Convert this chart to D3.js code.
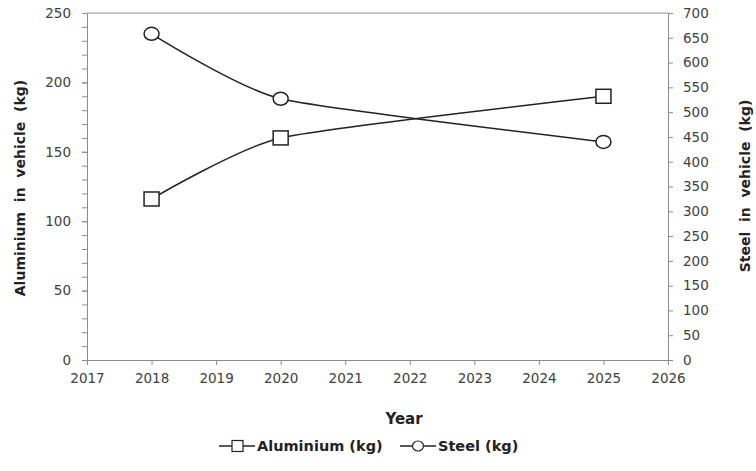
<!DOCTYPE html>
<html><head><meta charset="utf-8">
<script src="https://cdn.jsdelivr.net/npm/d3@7"></script>
<style>body{margin:0;background:#fff}svg{display:block}text{font-family:"DejaVu Sans",sans-serif}</style>
</head><body><svg id="c" width="756" height="471"></svg>
<script>
const years = [2018, 2020, 2025];
const aluminium = [116, 160, 190];
const steel = [658, 527, 440];
const xTicks = [2017,2018,2019,2020,2021,2022,2023,2024,2025,2026];
const leftTicks = [0,50,100,150,200,250];
const rightTicks = [0,50,100,150,200,250,300,350,400,450,500,550,600,650,700];

const svg = d3.select("#c");
const L=87, R=668, T=13, B=360;
const x = d3.scaleLinear().domain([2017,2026]).range([L,R]);
const yL = d3.scaleLinear().domain([0,250]).range([B,T]);
const yR = d3.scaleLinear().domain([0,700]).range([B,T]);
const axisCol="#8c8c8c", txtCol="#404040";

svg.append("line").attr("x1",L).attr("x2",R).attr("y1",T).attr("y2",T).attr("stroke",axisCol);

function style(g){g.select(".domain").attr("stroke",axisCol);g.selectAll(".tick line").attr("stroke",axisCol);
 g.selectAll("text").attr("fill",txtCol).style("font-size","13.5px").style("font-family","'DejaVu Sans',sans-serif");}

svg.append("g").attr("transform",`translate(${L},0)`).call(d3.axisLeft(yL).tickValues(d3.range(0,251,10)).tickSize(5).tickFormat(""))
 .call(g=>{g.select(".domain").remove();g.selectAll(".tick line").attr("stroke",axisCol);});
svg.append("g").attr("transform",`translate(${L},0)`).call(d3.axisLeft(yL).tickValues(leftTicks).tickSize(5).tickSizeOuter(0).tickPadding(11)).call(style);
svg.append("g").attr("transform",`translate(${R},0)`).call(d3.axisRight(yR).tickValues(rightTicks).tickSize(5).tickSizeOuter(0).tickPadding(10)).call(style);
svg.append("g").attr("transform",`translate(0,${B})`).call(d3.axisBottom(x).tickValues(xTicks).tickFormat(d3.format("d")).tickSize(5).tickSizeOuter(0).tickPadding(8)).call(style);

const curve = d3.curveCardinal.tension(0.45);
const lineA = d3.line().x((d,i)=>x(years[i])).y(d=>yL(d)).curve(curve);
const lineS = d3.line().x((d,i)=>x(years[i])).y(d=>yR(d)).curve(curve);
svg.append("path").attr("d",lineA(aluminium)).attr("fill","none").attr("stroke","#222").attr("stroke-width",1.5);
svg.append("path").attr("d",lineS(steel)).attr("fill","none").attr("stroke","#222").attr("stroke-width",1.5);
svg.selectAll(".sq").data(aluminium).enter().append("rect")
 .attr("x",(d,i)=>x(years[i])-7.5).attr("y",d=>yL(d)-7).attr("width",15).attr("height",14)
 .attr("fill","#fff").attr("stroke","#222").attr("stroke-width",1.5);
svg.selectAll(".ci").data(steel).enter().append("ellipse")
 .attr("cx",(d,i)=>x(years[i])).attr("cy",d=>yR(d)).attr("rx",7.5).attr("ry",6.5)
 .attr("fill","#fff").attr("stroke","#222").attr("stroke-width",1.5);

svg.append("text").attr("transform","translate(25,188) rotate(-90)").attr("text-anchor","middle")
 .style("font-size","14px").style("font-weight","bold").attr("fill","#222").style("white-space","pre").text("Aluminium  in  vehicle  (kg)");
svg.append("text").attr("transform","translate(750,186) rotate(-90)").attr("text-anchor","middle")
 .style("font-size","14px").style("font-weight","bold").attr("fill","#222").style("white-space","pre").text("Steel  in  vehicle  (kg)");
svg.append("text").attr("x",404).attr("y",424).attr("text-anchor","middle")
 .style("font-size","15px").style("font-weight","bold").attr("fill","#222").text("Year");

const lg = svg.append("g").attr("transform","translate(0,451)");
const items=[{name:"Aluminium (kg)",sym:"sq",x:219},{name:"Steel (kg)",sym:"ci",x:400}];
items.forEach(it=>{
 lg.append("line").attr("x1",it.x).attr("x2",it.x+36).attr("y1",-5).attr("y2",-5).attr("stroke","#222").attr("stroke-width",1.3);
 if(it.sym==="sq") lg.append("rect").attr("x",it.x+13).attr("y",-10.5).attr("width",11).attr("height",11).attr("fill","#fff").attr("stroke","#222").attr("stroke-width",1.2);
 else lg.append("ellipse").attr("cx",it.x+18).attr("cy",-5).attr("rx",5.5).attr("ry",5).attr("fill","#fff").attr("stroke","#222").attr("stroke-width",1.2);
 lg.append("text").attr("x",it.x+38).attr("y",0).style("font-size","14.5px").style("font-weight","bold").attr("fill","#222").text(it.name);
});
</script></body></html>
